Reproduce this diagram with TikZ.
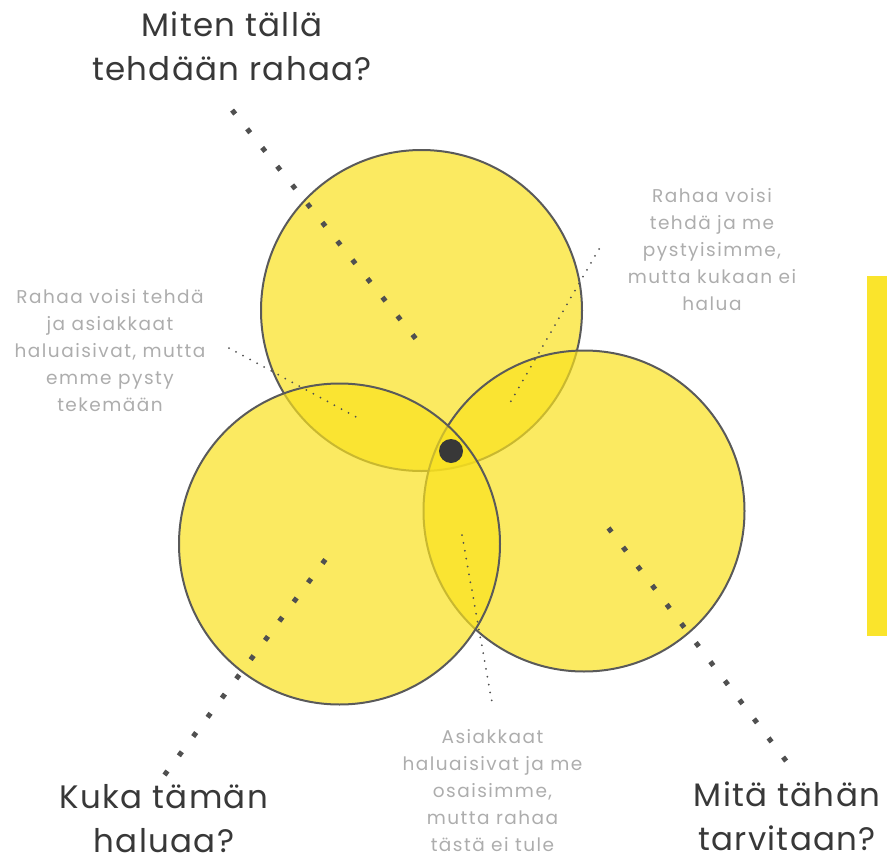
\documentclass[tikz,border=0pt]{standalone}
\usepackage{fontspec}
\setmainfont{Poppins}
\newfontfamily\askfont{Poppins}[LetterSpace=4]
\newfontfamily\notefont{Poppins}[LetterSpace=8]
\usetikzlibrary{positioning}
\definecolor{cFill}{HTML}{F9E11E}
\definecolor{cBar}{HTML}{FAE42C}
\definecolor{cEdge}{HTML}{5A5A5A}
\definecolor{cInk}{HTML}{383838}
\definecolor{cNote}{HTML}{ADADAD}
\definecolor{cDot}{HTML}{505050}
\tikzset{
  ring/.style ={circle, draw=cEdge, line width=2pt, fill=cFill, fill opacity=0.7,
                minimum size=321pt, inner sep=0pt},
  hub/.style  ={circle, fill=cInk, minimum size=24pt, inner sep=0pt},
  bar/.style  ={fill=cBar, minimum width=20pt, minimum height=360pt, inner sep=0pt},
  ask/.style  ={align=center, text=cInk, font=\askfont\fontsize{32.5}{44}\selectfont, inner sep=0pt, anchor=base},
  note/.style ={align=center, text=cNote, font=\notefont\fontsize{18.5}{27}\selectfont, inner sep=0pt, anchor=base},
  trail/.style={draw=cDot, line width=5pt, dash pattern=on 5pt off 19pt},
  lead/.style ={draw=cDot, line width=2pt, line cap=round, dash pattern=on 0pt off 8pt},
}
\begin{document}
\begin{tikzpicture}[x=1pt, y=-1pt]
    \useasboundingbox (0,0) rectangle (887,862);
    % three circles: top first, then right, then left
    \node[ring] (make) at (421.5,310.5) {};
    \node[ring] (need) at (584,511) {};
    \node[ring] (want) at (339.5,544) {};
    \node[hub] (hub) at (451,451) {};
    \node[bar] (strip) at (877,456) {};
    % questions (anchored on the last line)
    \node[ask] (qmake) at (232,80) {Miten tällä\\tehdään rahaa?};
    \node[ask] (qwant) at (164,852) {Kuka tämän\\haluaa?};
    \node[ask] (qneed) at (787,850) {Mitä tähän\\tarvitaan?};
    % notes
    \node[note] (nleft) at (110,411) {Rahaa voisi tehdä\\ja asiakkaat\\haluaisivat, mutta\\emme pysty\\tekemään};
    \node[note] (nright) at (712,310) {Rahaa voisi\\tehdä ja me\\pystyisimme,\\mutta kukaan ei\\halua};
    \node[note] (nlow) at (492.5,851) {Asiakkaat\\haluaisivat ja me\\osaisimme,\\mutta rahaa\\tästä ei tule};
    % ends of the dotted trails
    \coordinate (tm1) at (232.1,110.1);  \coordinate (tm2) at (416,339);
    \coordinate (tw1) at (164.5,775);    \coordinate (tw2) at (325.4,559.5);
    \coordinate (tn1) at (608.5,528);    \coordinate (tn2) at (786.5,761.5);
    \coordinate (ll1) at (229,348);      \coordinate (ll2) at (358,418);
    \coordinate (lr1) at (599,249);      \coordinate (lr2) at (507,408);
    \coordinate (lb1) at (462,535);      \coordinate (lb2) at (493,708);
    \draw[trail] (tm1) -- (tm2);
    \draw[trail] (tw1) -- (tw2);
    \draw[trail] (tn1) -- (tn2);
    \draw[lead] (ll1) -- (ll2);
    \draw[lead] (lr1) -- (lr2);
    \draw[lead] (lb1) -- (lb2);
  \end{tikzpicture}
\end{document}
